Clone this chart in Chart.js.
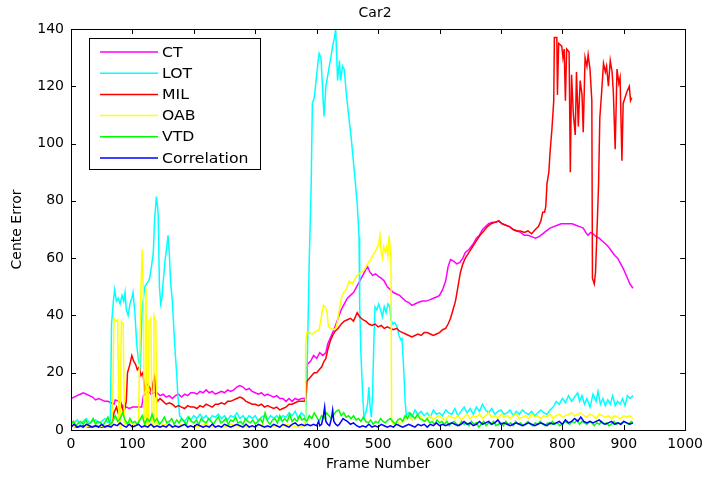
<!DOCTYPE html>
<html>
<head>
<meta charset="utf-8">
<script src="https://cdn.jsdelivr.net/npm/chart.js@4/dist/chart.umd.min.js"></script>
<style>
  html, body { margin: 0; padding: 0; background: #fff; }
  canvas { display: block; }
</style>
</head>
<body>
<canvas id="chart" width="709" height="477"></canvas>
<script>
// series as [frame, error] pairs
const seriesLabels = ['CT', 'LOT', 'MIL', 'OAB', 'VTD', 'Correlation'];
const seriesColors = ['#ff00ff', '#00ffff', '#ff0000', '#ffff00', '#00ff00', '#0000ff'];

const ctData = [[0,11],[5,11.5],[10,12],[15,12.5],[20,13],[25,12.5],[30,12],[35,11.5],[40,10.5],[45,11],[50,10.5],[55,10],[60,10],[65,9.5],[70,9],[72,10.5],[78,10],[82,9],[86,8],[90,8],[95,7.5],[100,8],[105,8],[110,8],[115,8],[118,12],[122,13],[126,13.5],[130,12.5],[135,13],[140,13],[145,12],[150,12.5],[155,11.5],[160,12],[165,11],[170,12],[175,12.5],[180,11.5],[185,12.5],[190,12],[195,13],[200,13],[205,12.5],[210,13.5],[215,13],[220,14],[225,13],[230,13.5],[235,12.5],[240,13],[245,13.5],[250,13],[255,14],[260,13.5],[265,14],[270,15],[275,15.5],[280,15],[285,14],[290,14.5],[295,13.5],[300,13],[305,12.5],[310,13],[315,12],[320,12.5],[325,12],[330,11.5],[335,12],[340,11],[345,11],[350,10],[355,11],[360,10],[365,11],[370,10.5],[375,11],[380,11],[383,11],[385,23],[390,24],[395,26],[400,25],[405,27],[410,26],[415,27],[418,30],[422,32],[428,35],[435,39],[440,42],[445,44],[450,46],[455,47],[460,48],[465,50],[470,52],[475,54],[480,56],[483,57],[487,55],[491,54],[496,54.5],[501,53.5],[505,53],[510,52],[515,50],[520,49],[525,48],[530,47.5],[535,47],[540,46],[545,45],[550,44.5],[555,43.5],[560,44],[565,44.5],[572,45],[578,45],[585,45.5],[590,46],[596,46.5],[600,47],[605,49],[610,52],[614,57],[618,59.5],[623,59],[628,58],[633,58.5],[638,60],[642,62],[648,63],[655,65],[660,67],[665,68],[670,70],[675,71],[680,72],[686,72.5],[692,72.5],[697,73],[702,72],[708,71.5],[714,71],[720,70],[726,69.5],[732,69],[738,68],[744,68],[750,67.5],[756,67],[762,67.5],[768,68.5],[774,69.5],[780,70.5],[786,71],[792,71.5],[798,72],[804,72],[810,72],[816,72],[822,71.5],[828,71],[834,70.5],[838,69],[842,68],[846,69],[850,68.5],[855,67.5],[860,67],[865,66],[870,65],[875,64],[880,62.5],[885,61],[890,60],[895,58],[900,56],[905,53.5],[910,51],[915,49.5]];

const lotData = [[0,3],[5,2.5],[10,3.5],[15,2],[20,3],[25,4],[30,2.5],[35,3],[40,3.5],[45,2.5],[50,3],[55,4],[60,2.5],[64,3],[66,37],[69,45],[71,49],[74,45],[77,46],[80,44],[83,47],[86,45],[88,48],[90,42],[93,40],[96,44],[99,46],[101,48],[104,41],[107,30],[110,24],[113,22],[116,43],[118,46],[120,50],[123,51],[126,52],[128,53],[131,57],[134,62],[136,73],[139,81.5],[141,78],[142,75],[144,50],[146,44],[148,46],[151,54],[153,59],[156,64],[158,68],[160,62],[162,52],[165,45],[168,33],[170,26],[172,20],[174,12],[177,5],[180,4],[185,3],[190,4.5],[195,3.5],[200,5],[205,4],[210,5.5],[215,4],[220,5],[225,3.5],[230,5],[235,4.5],[240,5.5],[245,4],[250,5],[255,3.5],[260,5],[265,4.5],[270,6],[275,4],[280,5],[285,3.5],[290,5],[295,4],[300,5],[305,3],[310,4.5],[315,5],[320,3.5],[325,5],[330,4],[335,5],[340,3.5],[345,5],[350,4.5],[355,6],[360,5],[365,6.5],[370,4],[375,6],[380,5],[382,3],[385,27],[388,60],[391,85],[393,114],[396,116],[399,122],[402,128],[404,131.5],[407,130],[410,117.5],[412,109.5],[415,120],[419,125],[423,130],[426,134],[429,137],[431,140],[434,122],[437,129],[439,122],[442,127],[445,125.8],[448,118],[450,114],[453,108],[456,102.5],[461,91],[466,79],[469,67.5],[470,44],[472,27],[475,12],[477,4.5],[480,6],[483,9.3],[485,15],[487,8],[489,4.5],[491,12],[493,30],[495,43],[498,42],[501,44],[504,42],[507,39.5],[510,43],[513,41],[516,44],[519,43],[521,38.5],[524,37],[527,37.5],[531,36],[534,33],[537,31.5],[539,32],[542,20],[544,10],[546,5],[550,6],[555,4.5],[560,7],[565,5.5],[570,6.5],[575,5],[580,6],[585,4.5],[590,7],[595,5.5],[600,6],[605,5],[610,7],[615,6],[620,5.5],[625,7.5],[630,5],[635,6.5],[640,8],[645,6],[650,7.5],[655,5.5],[660,8],[665,6.5],[670,9],[675,7],[680,6],[685,7.5],[690,5.5],[695,6.5],[700,7],[705,5.5],[710,6],[715,7],[720,5],[725,6.5],[730,5.5],[735,7],[740,6],[745,5.5],[750,6.5],[755,5],[760,6],[765,7],[770,6],[775,5.5],[780,7],[785,8],[790,10],[795,9],[800,11],[805,9.5],[810,12],[815,10],[820,11.5],[825,13],[828,10],[832,12],[836,9],[840,11],[845,8],[850,12.5],[855,10],[858,13.5],[862,9],[866,11],[870,8.5],[874,10.5],[878,9],[882,12],[886,8.5],[890,10],[894,9],[898,11],[902,8.5],[906,12],[910,11],[915,12]];

const milData = [[0,1.5],[10,1],[20,1.5],[30,1],[40,1.5],[50,1],[60,1.5],[66,2],[70,6],[74,8],[78,5],[82,9],[86,6],[90,10],[92,20],[96,23],[99,26],[102,24],[105,23],[108,21],[111,22],[114,19],[117,20],[120,14],[124,16],[128,15],[131,13],[134,17],[136,18.5],[138,12],[141,10],[145,11],[150,10],[155,9],[160,9.5],[165,9],[170,8],[175,8.5],[180,8],[185,7.5],[190,8.5],[195,8],[200,8],[205,7.5],[210,8.5],[215,8],[220,9],[225,8.5],[230,8],[235,9],[240,9],[245,9.5],[250,9],[255,10],[260,10],[265,10.5],[270,11],[275,11.5],[280,11],[285,10],[290,9.5],[295,9],[300,9],[305,8.5],[310,9],[315,8],[320,8.5],[325,8],[330,7.5],[335,8],[340,7],[345,7.5],[350,8],[355,9],[360,9],[365,9.5],[370,10],[375,10],[380,10],[382,11],[384,17],[388,18],[392,19],[396,20],[400,20],[404,21],[408,22],[412,24],[415,25],[418,28],[422,31],[426,33],[430,34.5],[435,35.5],[440,37],[445,38],[450,38.5],[455,39],[460,38],[466,41],[470,39.5],[475,38.5],[480,38],[485,37],[490,36.5],[495,37],[500,36],[505,36.5],[510,35.5],[515,36],[520,35.5],[525,35],[530,35.5],[535,34.5],[540,34],[545,33.5],[550,33],[555,32.5],[560,33],[565,33.5],[570,33],[575,34],[580,34],[585,33.5],[590,33],[595,33.5],[600,34],[605,35],[610,35.5],[614,37],[618,39],[622,42],[626,45],[630,50],[634,55],[638,58],[642,60],[648,62],[654,64],[660,66],[666,68],[672,69.5],[678,71],[684,72],[690,72.5],[696,73],[702,72],[708,71.5],[714,71],[720,70],[726,69.5],[732,69.5],[738,69],[744,69.5],[750,68.5],[756,70],[761,71],[765,73],[768,76],[771,76],[773,78],[775,86],[778,90],[780,97],[783,105],[786,115],[787,137],[791,137],[792,117],[794,135],[799,134],[801,130],[803,133],[805,115],[807,133],[811,132],[813,90],[815,124],[818,110],[821,103],[823,125],[826,106],[829,122],[832,117],[834,104],[837,130],[840,127],[842,131],[845,126],[848,115],[849,53],[852,51],[854,55],[856,67],[859,86],[861,109],[864,118],[867,128],[870,125],[872,127],[875,120],[878,129],[881,125],[883,118],[886,98],[889,126],[892,121],[894,123],[897,94],[899,114],[902,116],[905,118],[909,120],[911,115],[913,116]];

const oabData = [[0,1],[10,1.5],[20,1],[30,1.5],[40,1],[50,1.5],[60,1],[66,1.5],[68,10],[70,39],[73,38],[76,38.5],[78,2],[80,1],[82,38],[85,37],[87,2],[95,3],[100,2],[105,1.5],[110,2],[112,30],[114,50],[116,63],[118,45],[119,3],[121,2],[122,50],[124,3],[126,2],[127,38],[130,39],[132,2],[134,1],[135,40],[138,38],[140,2],[145,1],[150,2],[160,1.5],[170,1],[180,2],[190,1.5],[200,1],[210,1.5],[220,2],[230,1],[240,1.5],[250,1],[260,2],[270,1.5],[280,1],[290,1.5],[300,1],[310,2],[320,1],[330,1.5],[340,1],[350,2],[360,1.5],[370,1],[378,1.5],[381,3],[382,30],[384,34],[388,34],[392,33.5],[396,34],[400,34.5],[404,35],[408,40],[411,43.5],[414,43],[417,41],[419,36],[423,35.5],[427,35],[431,35.5],[434,38],[437,42],[440,46],[444,48],[448,49],[453,52],[458,51],[463,53],[468,54.5],[473,55],[478,56],[483,58],[488,59.5],[493,61.5],[497,63],[501,65],[503,68],[505,62],[507,60],[509,64],[512,62],[514,64],[516,61],[518,68],[520,62],[521,60],[522,3],[525,2],[530,3],[535,2],[540,3],[545,4],[550,5],[555,3.5],[560,4],[565,5],[570,4.5],[575,3],[580,4],[585,5],[590,3.5],[595,4.5],[600,5],[605,4],[610,3.5],[615,5],[620,4.5],[625,4],[630,5],[635,3.5],[640,4.5],[645,5.5],[650,4],[655,5],[660,4.5],[665,5.5],[670,4],[675,5],[680,6],[685,4.5],[690,5],[695,4],[700,5.5],[705,4.5],[710,5],[715,4],[720,5],[725,5.5],[730,4],[735,4.5],[740,5],[745,4],[750,5.5],[755,4.5],[760,5],[765,4],[770,5],[775,4.5],[780,5.5],[785,4],[790,5],[795,5.5],[800,4.5],[805,5],[810,5.5],[815,6],[820,5],[825,5.5],[830,6],[835,5],[840,4.5],[845,5.5],[850,5],[855,4],[860,5.5],[865,5],[870,4.5],[875,5],[880,4],[885,5],[890,4.5],[895,4],[900,5],[905,4.5],[910,5],[915,4]];

const vtdData = [[0,2],[4,3],[8,1.5],[12,2.5],[16,3],[20,2],[24,3.5],[28,2],[32,2.5],[36,4],[40,2],[44,3],[48,2.5],[52,1.5],[56,3],[60,4.5],[64,2],[68,3],[72,5],[76,3],[80,4],[84,6],[88,3.5],[92,2],[96,4],[100,2.5],[104,3],[108,2],[112,3.5],[116,5],[120,2],[124,4],[128,3],[132,5.5],[136,3],[140,4],[144,2],[148,3],[152,4.5],[156,2.5],[160,3],[164,4],[168,2],[172,3.5],[176,2.5],[180,4],[184,3],[188,2],[192,4.5],[196,3],[200,2.5],[204,3.5],[208,2],[212,4],[216,3],[220,2.5],[224,4],[228,3],[232,2],[236,3.5],[240,4.5],[244,2.5],[248,3],[252,4],[256,2],[260,3.5],[264,3],[268,4.5],[272,2.5],[276,3],[280,2],[284,4],[288,3],[292,2.5],[296,3.5],[300,2],[304,3],[308,4],[312,2.5],[316,6],[320,3],[324,2],[328,3.5],[332,4],[336,2.5],[340,5],[344,3],[348,4],[352,3],[356,5.5],[360,3],[364,4],[368,3],[372,5],[376,3.5],[380,4],[384,3],[388,5],[392,4],[396,6],[400,4.5],[404,3],[408,5],[412,4],[416,6],[420,5],[424,4],[428,5.5],[432,6.5],[436,7],[440,5],[444,6],[448,4.5],[452,5],[456,4],[460,5],[464,3.5],[468,4],[472,3],[476,4.5],[480,3],[484,2.5],[488,3.5],[492,2],[496,3],[500,2.5],[504,4],[508,3],[512,2.5],[516,3.5],[520,4],[524,3],[528,2],[532,3.5],[536,4],[540,3],[544,5],[548,4],[552,6],[556,5],[560,4],[564,5.5],[568,4],[572,3.5],[576,3],[580,4],[584,2.5],[588,3],[592,2],[596,3.5],[600,2.5],[604,3],[608,2],[612,3],[616,1.5],[620,2.5],[624,3],[628,2],[632,1.5],[636,3],[640,2],[644,2.5],[648,1.5],[652,3],[656,2],[660,2.5],[664,1],[668,2],[672,3],[676,1.5],[680,2.5],[684,2],[688,3],[692,1.5],[696,2],[700,2.5],[704,1.5],[708,3],[712,2],[716,2.5],[720,1.5],[724,3],[728,2],[732,2.5],[736,1.5],[740,2],[744,3],[748,2],[752,1.5],[756,2.5],[760,2],[764,3],[768,2],[772,1.5],[776,2.5],[780,2],[784,3],[788,2],[792,2.5],[796,1.5],[800,2],[804,3],[808,2.5],[812,2],[816,3],[820,2.5],[824,3.5],[828,2],[832,3],[836,2.5],[840,2],[844,3],[848,2.5],[852,1.5],[856,2.5],[860,2],[864,3],[868,2],[872,2.5],[876,1.5],[880,2],[884,3],[888,2],[892,2.5],[896,2],[900,3],[904,2.5],[908,2],[912,3],[915,2.5]];

const corrData = [[0,1],[5,2],[10,1],[15,1.5],[20,1],[25,2],[30,1.5],[35,1],[40,1.5],[45,1],[50,2],[55,1],[60,1.5],[65,1],[70,2],[75,1.5],[80,2.5],[85,1.5],[90,1],[95,2],[100,1],[105,1.5],[110,2],[115,1],[120,1.5],[125,1],[130,2],[135,1],[140,1.5],[145,1],[150,1.5],[155,1],[160,2],[165,1],[170,1.5],[175,1],[180,1.5],[185,2],[190,1],[195,1.5],[200,1],[205,2],[210,1.5],[215,1],[220,1.5],[225,1],[230,2],[235,1],[240,1.5],[245,1],[250,2],[255,1.5],[260,1],[265,1.5],[270,2],[275,1.5],[280,1],[285,2],[290,1],[295,1.5],[300,1],[305,2],[310,1.5],[315,1],[320,1.5],[325,1],[330,2],[335,1.5],[340,1],[345,2],[350,1.5],[355,1],[360,2],[365,2.5],[370,1.5],[375,2],[380,1.5],[385,2],[390,1.5],[395,2],[400,1.5],[403,3],[405,1.5],[408,2],[411,5],[413,8],[415,3],[418,2],[421,1.5],[424,4],[426,7],[428,3],[431,2],[434,1.5],[437,2],[440,3],[443,4],[446,3.5],[450,3],[455,2],[460,2.5],[465,1.5],[470,1],[475,1.5],[480,1],[485,2],[490,1],[495,1.5],[500,1],[505,2],[510,1.5],[515,1],[520,1.5],[525,1],[530,2],[535,1.5],[540,1],[545,1.5],[550,2],[555,1.5],[560,1],[565,2],[570,1.5],[575,2],[580,1],[585,2],[590,1.5],[595,2.5],[600,1.5],[605,2],[610,1.5],[615,2],[620,2.5],[625,2],[630,1.5],[635,2],[640,3],[645,2],[650,2.5],[655,1.5],[660,2],[665,3],[670,2],[675,2.5],[680,3],[685,2],[690,2.5],[695,3.5],[700,2],[705,2.5],[710,2],[715,1.5],[720,2],[725,2.5],[730,2],[735,1.5],[740,2],[745,2.5],[750,2],[755,1.5],[760,2],[765,2.5],[770,2],[775,1.5],[780,2.5],[785,2],[790,2.5],[795,3],[800,2],[805,3.5],[810,2.5],[815,3],[820,4],[825,3],[830,4.5],[835,3],[840,2.5],[845,3],[850,2.5],[855,3],[860,3.5],[865,2.5],[870,2],[875,2.5],[880,3],[885,2],[890,2.5],[895,2],[900,3],[905,2.5],[910,2],[915,2.5]];

const allSeries = [ctData, lotData, milData, oabData, vtdData, corrData];

const FONT = '"DejaVu Sans", sans-serif';

// matlab style frame: box on all sides, ticks pointing in, legend box top-left
const matlabFrame = {
  id: 'matlabFrame',
  afterDraw(chart) {
    const { ctx, chartArea: a, scales } = chart;
    ctx.save();
    ctx.strokeStyle = '#000';
    ctx.lineWidth = 1;
    ctx.strokeRect(Math.round(a.left) + 0.5, Math.round(a.top) + 0.5,
      Math.round(a.right - a.left), Math.round(a.bottom - a.top));

    ctx.beginPath();
    scales.x.ticks.forEach(t => {
      const px = Math.round(scales.x.getPixelForValue(t.value)) + 0.5;
      ctx.moveTo(px, a.bottom); ctx.lineTo(px, a.bottom - 5);
      ctx.moveTo(px, a.top); ctx.lineTo(px, a.top + 5);
    });
    scales.y.ticks.forEach(t => {
      const py = Math.round(scales.y.getPixelForValue(t.value)) + 0.5;
      ctx.moveTo(a.left, py); ctx.lineTo(a.left + 5, py);
      ctx.moveTo(a.right, py); ctx.lineTo(a.right - 5, py);
    });
    ctx.stroke();

    // title
    ctx.fillStyle = '#000';
    ctx.font = '14px ' + FONT;
    ctx.textAlign = 'center';
    ctx.textBaseline = 'middle';
    ctx.fillText('Car2', (a.left + a.right) / 2 - 3, 13);

    // legend
    const lx = 89, ly = 38, lw = 171, lh = 131;
    ctx.fillStyle = '#fff';
    ctx.fillRect(lx, ly, lw, lh);
    ctx.strokeStyle = '#000';
    ctx.strokeRect(lx + 0.5, ly + 0.5, lw, lh);
    ctx.textAlign = 'left';
    seriesLabels.forEach((label, i) => {
      const y = 52 + i * 21.2;
      ctx.strokeStyle = seriesColors[i];
      ctx.lineWidth = 1.5;
      ctx.beginPath();
      ctx.moveTo(100, y); ctx.lineTo(158, y);
      ctx.stroke();
      ctx.save();
      ctx.translate(162, y);
      ctx.scale(1.12, 1);
      ctx.fillStyle = '#000';
      ctx.fillText(label, 0, 1);
      ctx.restore();
    });
    ctx.restore();
  }
};

new Chart(document.getElementById('chart'), {
  type: 'line',
  data: {
    datasets: allSeries.map((series, i) => ({
      label: seriesLabels[i],
      data: series.map(([x, y]) => ({ x, y })),
      borderColor: seriesColors[i],
      borderWidth: 1.5,
      pointRadius: 0,
      tension: 0,
      fill: false,
      order: seriesLabels.length - i
    }))
  },
  options: {
    responsive: false,
    animation: false,
    layout: { padding: { top: 29, right: 22, left: 0, bottom: 0 } },
    plugins: {
      legend: { display: false },
      tooltip: { enabled: false }
    },
    scales: {
      x: {
        type: 'linear',
        min: 0,
        max: 1000,
        ticks: { stepSize: 100, color: '#000', font: { family: FONT, size: 14 }, padding: 6, maxRotation: 0,
          callback: v => String(v) },
        grid: { display: false, drawTicks: false },
        border: { display: true, color: '#000' },
        title: { display: true, text: 'Frame Number', color: '#000', font: { family: FONT, size: 14 }, padding: { top: 0, bottom: 4 } },
        afterFit: s => { s.height = 47; }
      },
      y: {
        min: 0,
        max: 140,
        ticks: { stepSize: 20, color: '#000', font: { family: FONT, size: 14 }, padding: 7 },
        grid: { display: false, drawTicks: false },
        border: { display: true, color: '#000' },
        title: { display: true, text: 'Cente Error', color: '#000', font: { family: FONT, size: 14 }, padding: { top: 9, bottom: 0 } },
        afterFit: s => { s.width = 71; }
      }
    }
  },
  plugins: [matlabFrame]
});
</script>
</body>
</html>
